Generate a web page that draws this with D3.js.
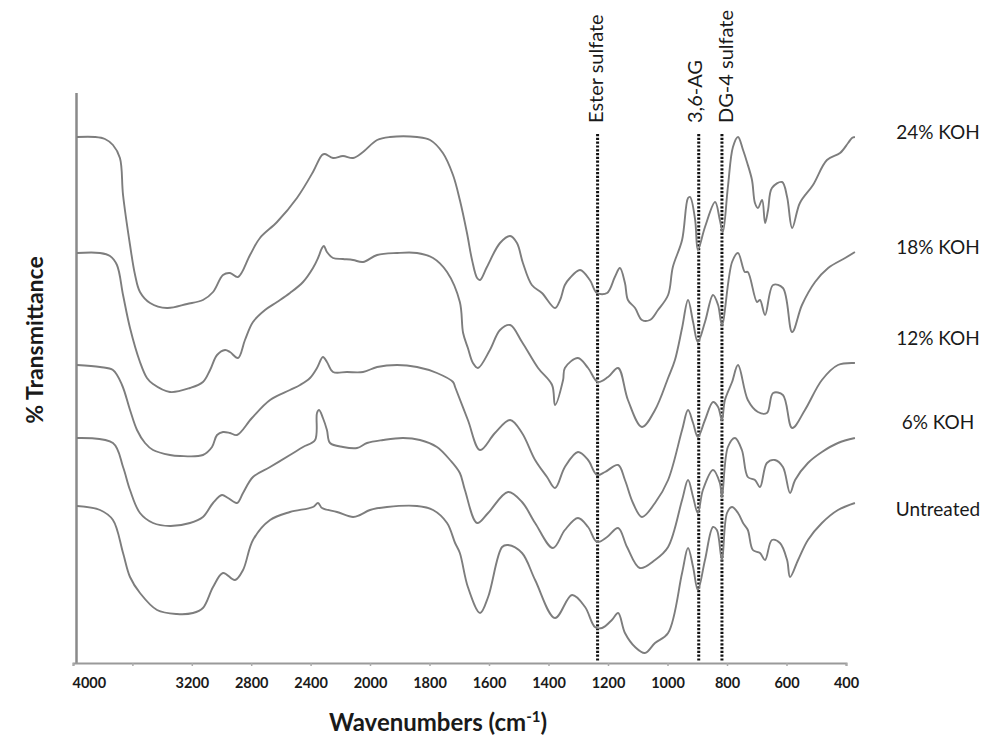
<!DOCTYPE html>
<html>
<head>
<meta charset="utf-8">
<script src="https://cdn.jsdelivr.net/npm/d3@7"></script>
<style>
  body { margin: 0; background: #fff; }
  svg { display: block; }
  text { font-family: Lato, "Open Sans", sans-serif; fill: #1a1a1a; }
</style>
</head>
<body>
<svg id="chart" width="988" height="736"></svg>
<script>
// FTIR spectra: [wavenumber (cm-1), stacked transmittance (a.u.)]
const koh24 = [[3973,526],[3852,526],[3785,524],[3731,518],[3684,505],[3663,468],[3616,418],[3582,388],[3549,371],[3481,360],[3367,355],[3232,359],[3125,363],[3057,371],[2990,388],[2943,390],[2889,386],[2808,408],[2741,425],[2626,441],[2492,465],[2384,491],[2323,508],[2303,509],[2249,505],[2182,507],[2114,505],[2047,511],[1976,523],[1933,526],[1842,526],[1798,523],[1755,510],[1721,488],[1698,463],[1674,430],[1657,403],[1640,385],[1630,383],[1607,396],[1563,420],[1529,427],[1506,420],[1486,400],[1456,378],[1422,370],[1378,355],[1361,363],[1345,378],[1328,385],[1294,393],[1261,383],[1237,370],[1203,370],[1177,386],[1160,395],[1143,380],[1133,363],[1109,355],[1086,343],[1059,343],[1032,353],[998,368],[982,396],[951,423],[931,465],[924,466],[907,443],[898,413],[874,436],[840,461],[824,443],[814,431],[797,476],[780,516],[763,526],[746,513],[733,501],[716,483],[706,460],[696,455],[682,463],[672,440],[662,453],[649,475],[615,481],[598,466],[581,435],[555,460],[511,478],[464,503],[420,510],[393,520],[380,525],[370,526]];

const koh18 = [[3973,410],[3818,410],[3751,407],[3704,398],[3663,368],[3616,335],[3549,301],[3502,285],[3461,279],[3347,271],[3212,275],[3125,281],[3077,293],[3030,308],[2976,313],[2943,311],[2889,305],[2842,323],[2788,341],[2707,353],[2626,361],[2539,370],[2451,381],[2384,395],[2350,405],[2323,415],[2310,417],[2290,411],[2249,405],[2182,404],[2114,403],[2047,401],[1976,408],[1909,410],[1842,410],[1788,405],[1741,391],[1698,361],[1687,330],[1671,315],[1654,300],[1637,295],[1597,313],[1563,333],[1529,338],[1489,321],[1435,295],[1388,278],[1378,258],[1351,283],[1345,295],[1301,305],[1267,295],[1234,281],[1200,286],[1166,295],[1133,263],[1086,236],[1042,253],[998,285],[975,303],[951,335],[931,363],[914,341],[898,321],[874,341],[847,368],[830,358],[817,338],[783,401],[763,410],[740,391],[730,391],[699,361],[689,363],[672,348],[645,378],[612,375],[581,331],[548,358],[504,381],[460,395],[403,405],[370,411]];

const koh12 = [[3973,298],[3818,296],[3731,293],[3670,278],[3616,253],[3569,233],[3515,220],[3461,213],[3347,208],[3279,207],[3125,208],[3064,216],[3030,228],[2990,231],[2943,230],[2896,228],[2795,245],[2673,263],[2539,273],[2471,278],[2404,285],[2357,295],[2317,306],[2290,301],[2249,291],[2155,291],[2047,291],[1976,296],[1909,298],[1842,296],[1775,290],[1721,281],[1714,276],[1671,243],[1630,213],[1580,230],[1529,243],[1489,230],[1445,203],[1405,186],[1378,175],[1345,196],[1301,211],[1267,203],[1237,188],[1210,191],[1166,198],[1143,183],[1116,160],[1086,146],[1042,160],[998,183],[951,233],[931,253],[914,240],[898,226],[874,243],[847,261],[830,256],[817,243],[807,263],[783,281],[763,298],[730,263],[696,251],[666,250],[645,270],[612,268],[581,235],[538,253],[481,283],[427,298],[370,300]];

const koh6 = [[3973,225],[3731,220],[3663,196],[3616,173],[3549,150],[3461,140],[3347,137],[3212,140],[3125,146],[3057,160],[2997,168],[2956,165],[2896,160],[2855,170],[2788,186],[2673,196],[2539,208],[2451,216],[2370,223],[2357,250],[2343,253],[2317,245],[2290,233],[2269,220],[2182,216],[2087,215],[2020,220],[1956,223],[1889,225],[1832,223],[1775,216],[1731,203],[1698,190],[1681,173],[1640,140],[1603,150],[1536,171],[1489,161],[1445,140],[1385,115],[1345,133],[1301,145],[1267,136],[1237,121],[1203,126],[1166,135],[1136,116],[1093,95],[1042,103],[998,116],[951,163],[931,183],[914,166],[898,150],[881,173],[847,193],[824,180],[817,166],[797,216],[773,225],[750,213],[730,186],[706,183],[689,176],[666,200],[639,203],[612,196],[588,170],[571,183],[528,200],[481,211],[427,220],[370,225]];

const untreated = [[3973,157],[3818,153],[3731,143],[3663,110],[3616,86],[3549,70],[3434,53],[3300,49],[3192,50],[3125,55],[3057,76],[2990,90],[2909,83],[2855,93],[2788,123],[2673,143],[2539,151],[2384,156],[2350,160],[2323,155],[2222,151],[2114,146],[2067,148],[2000,153],[1943,156],[1842,157],[1788,153],[1741,140],[1714,120],[1698,110],[1671,76],[1630,50],[1603,66],[1556,116],[1536,118],[1489,110],[1445,83],[1378,45],[1321,68],[1277,56],[1244,36],[1220,35],[1187,43],[1166,50],[1143,30],[1109,16],[1076,10],[1042,20],[998,30],[951,90],[931,115],[914,96],[898,73],[874,103],[847,136],[834,133],[817,103],[800,150],[783,156],[763,150],[746,140],[730,133],[713,113],[689,110],[672,103],[649,123],[622,120],[598,103],[588,86],[561,103],[528,123],[481,140],[427,153],[370,160]];

const seriesNames = ["24% KOH", "18% KOH", "12% KOH", "6% KOH", "Untreated"];
const seriesData = [koh24, koh18, koh12, koh6, untreated];
const labelLevels = [531, 416, 325, 241, 154];

// Band assignments marked with dotted lines
const bandNames = ["Ester sulfate", "3,6-AG", "DG-4 sulfate"];
const bandWavenumbers = [1235, 895, 817];

// Axis ticks (the 3600 mark carries no label)
const tickMarks = [4000, 3600, 3200, 2800, 2400, 2000, 1800, 1600, 1400, 1200, 1000, 800, 600, 400];
const tickLabels = [4000, 3200, 2800, 2400, 2000, 1800, 1600, 1400, 1200, 1000, 800, 600, 400];

const svg = d3.select("#chart");

// Wavenumber axis with the usual 2x expansion below 2000 cm-1
const x = d3.scaleLinear().domain([4000, 2000, 400]).range([73, 370, 846]);
const y = d3.scaleLinear().domain([0, 570]).range([663, 93]);

// Plot frame: left rule and bottom axis
svg.append("line")
  .attr("x1", 76.5).attr("x2", 76.5)
  .attr("y1", y(570)).attr("y2", y(0))
  .attr("stroke", "#8a8a8a").attr("stroke-width", 2.5);

const xAxis = d3.axisBottom(x)
  .tickValues(tickMarks)
  .tickSize(3)
  .tickPadding(12)
  .tickFormat(d => tickLabels.includes(d) ? String(d) : "");

const gx = svg.append("g")
  .attr("transform", `translate(0,${y(0)})`)
  .call(xAxis);
gx.select(".domain").attr("stroke", "#9a9a9a").attr("stroke-width", 2);
gx.selectAll(".tick line").attr("stroke", "#aaaaaa").attr("stroke-width", 1.5);
gx.selectAll(".tick text")
  .style("font-family", "Lato, sans-serif")
  .style("font-size", "14.5px")
  .style("font-weight", "700")
  .attr("fill", "#1a1a1a")
  .filter(d => d === 4000)
  .attr("text-anchor", "start")
  .attr("dx", -1);

// Dotted band markers
const bands = svg.append("g");
bandWavenumbers.forEach((wn, i) => {
  bands.append("line")
    .attr("x1", x(wn)).attr("x2", x(wn))
    .attr("y1", 134).attr("y2", y(0) - 1)
    .attr("stroke", "#111")
    .attr("stroke-width", 3)
    .attr("stroke-dasharray", "2.2,1.6");
});
const bandDx = [5.5, 3.5, 11];
bandNames.forEach((name, i) => {
  bands.append("text")
    .attr("transform", `translate(${x(bandWavenumbers[i]) + bandDx[i]},123) rotate(-90)`)
    .attr("text-anchor", "start")
    .style("font-size", "20px")
    .text(name);
});

// Spectra
const line = d3.line()
  .x(d => x(d[0]))
  .y(d => y(d[1]))
  .curve(d3.curveCatmullRom.alpha(0.5));

svg.append("g")
  .selectAll("path")
  .data(seriesData)
  .join("path")
  .attr("d", line)
  .attr("fill", "none")
  .attr("stroke", "#7d7d7d")
  .attr("stroke-width", 1.9)
  .attr("stroke-linejoin", "round");

// Series labels at the right end
svg.append("g")
  .selectAll("text")
  .data(seriesNames)
  .join("text")
  .attr("x", 938)
  .attr("y", (d, i) => y(labelLevels[i]))
  .attr("dy", "0.35em")
  .attr("text-anchor", "middle")
  .style("font-size", "19px")
  .text(d => d);

// Axis titles
const xt = svg.append("text")
  .attr("x", 438).attr("y", 731)
  .attr("text-anchor", "middle")
  .style("font-size", "24px")
  .style("font-weight", "700");
xt.append("tspan").text("Wavenumbers (cm");
xt.append("tspan").attr("dy", -9).style("font-size", "15px").text("-1");
xt.append("tspan").attr("dy", 9).text(")");

svg.append("text")
  .attr("transform", "translate(43,340) rotate(-90)")
  .attr("text-anchor", "middle")
  .style("font-size", "23px")
  .style("font-weight", "700")
  .text("% Transmittance");
</script>
</body>
</html>
